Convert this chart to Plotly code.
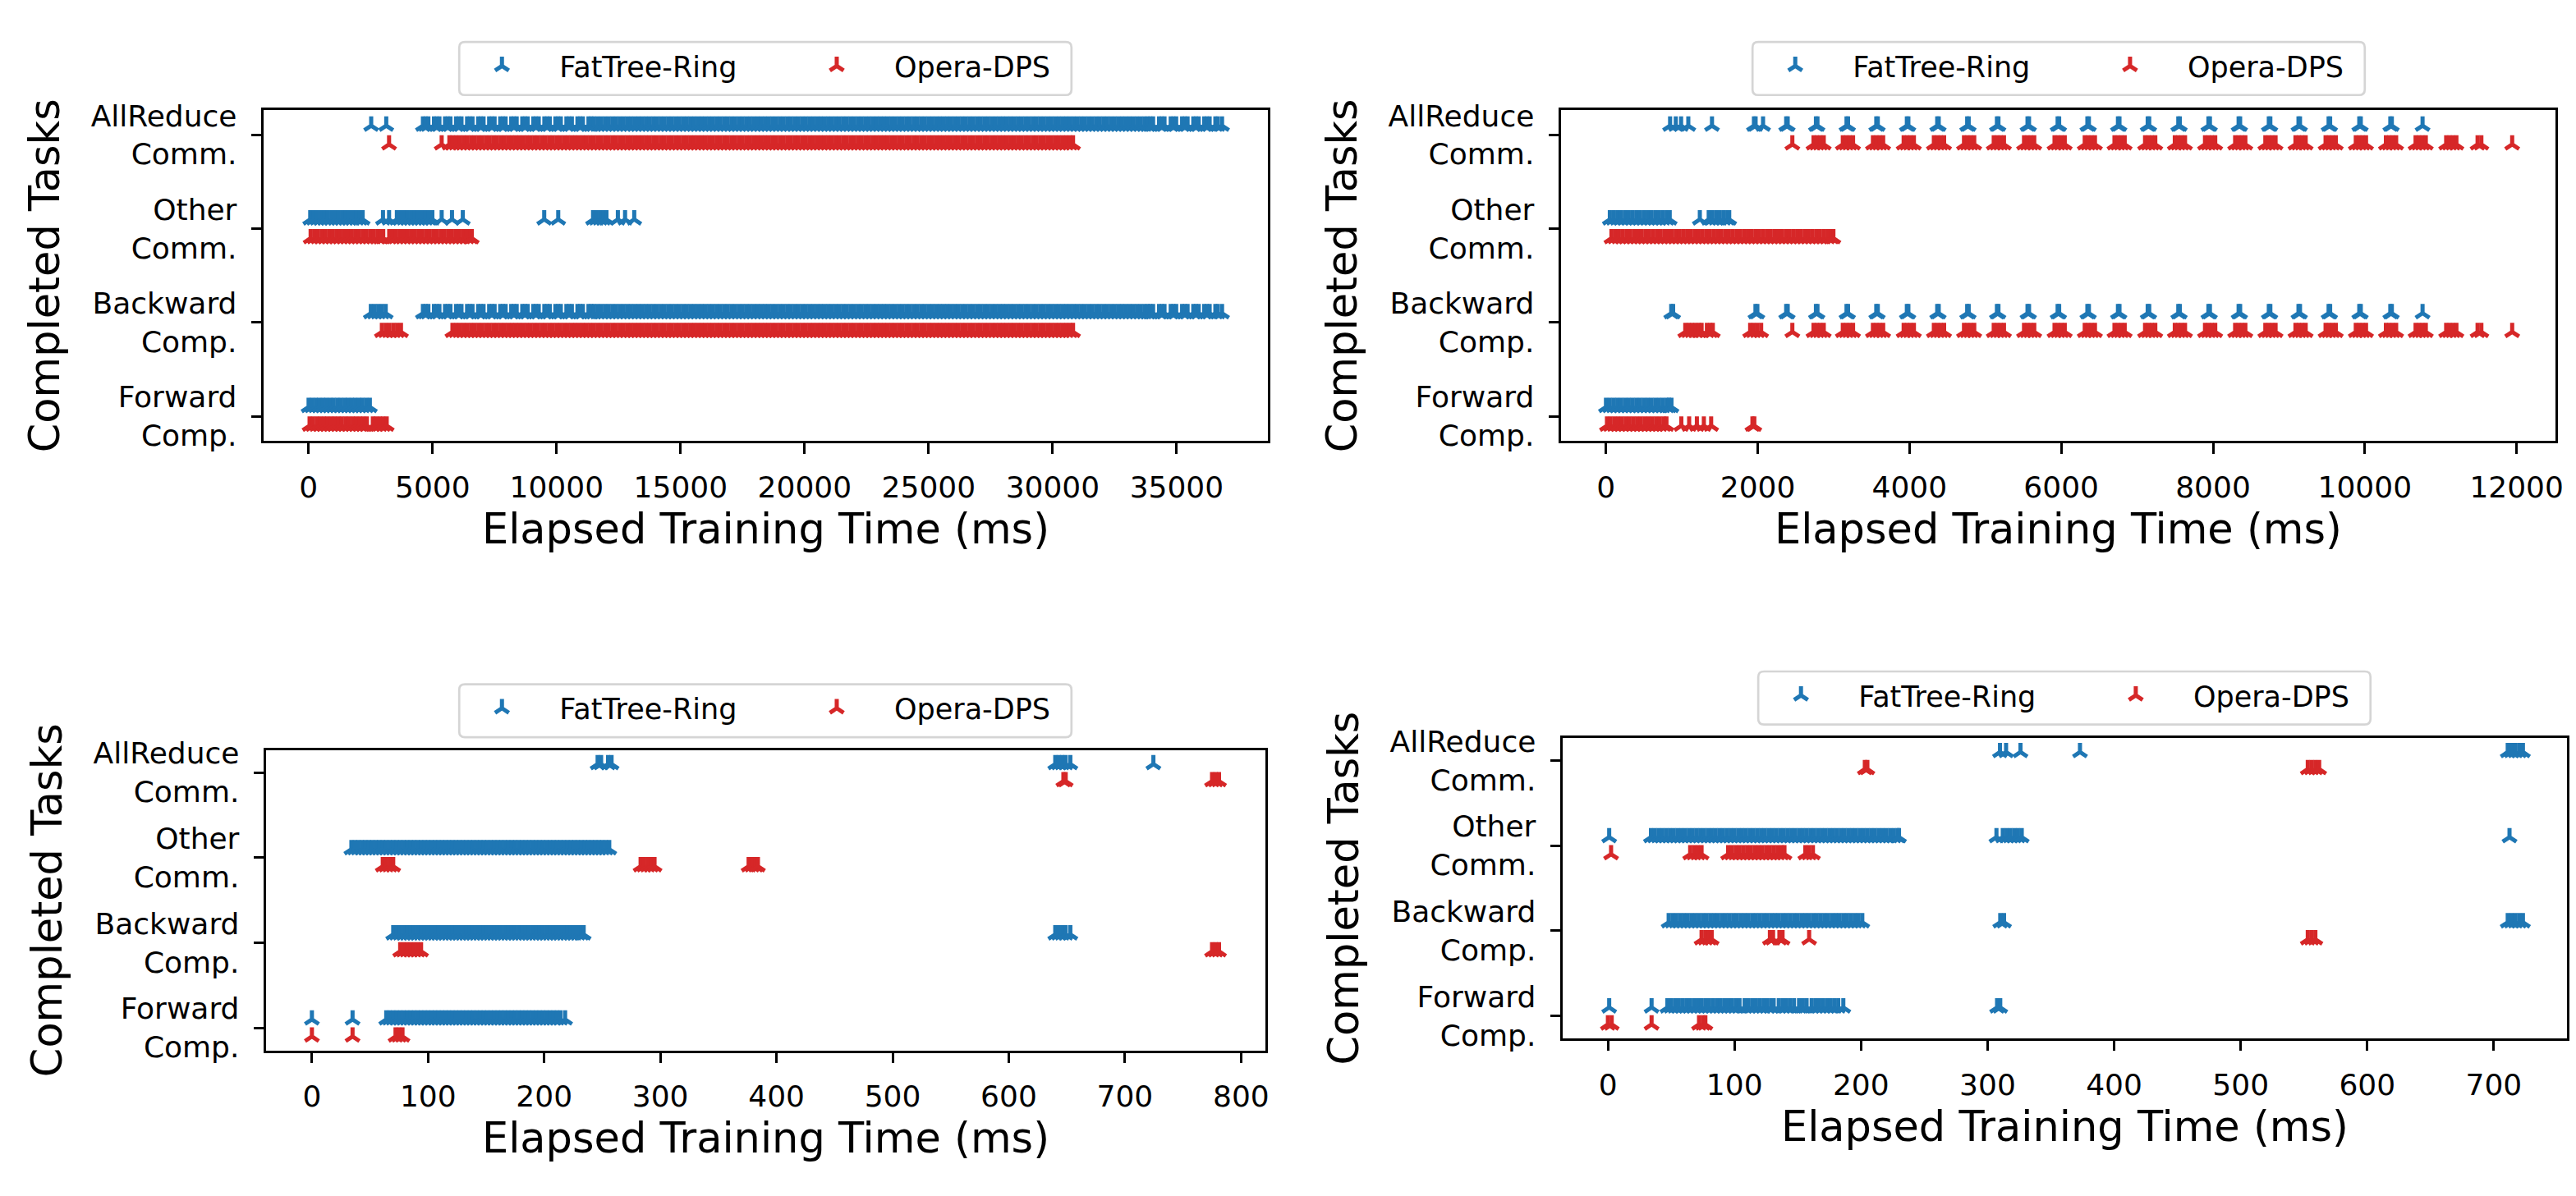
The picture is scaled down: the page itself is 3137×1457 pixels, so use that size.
import plotly.graph_objects as go

W, H = 3137, 1457
FONT = "DejaVu Sans"

categories = ["Forward<br>Comp.", "Backward<br>Comp.", "Other<br>Comm.", "AllReduce<br>Comm."]
series_names = ["FatTree-Ring", "Opera-DPS"]
series_colors = ["#1f77b4", "#d62728"]
series_offsets = [0.1, -0.1]
x_title = "Elapsed Training Time (ms)"
y_title = "Completed Tasks"

# ---------------- Panel 1 (top-left) : completion times in ms ----------------
p1_ring_forward = [0, 140, 290, 430, 580, 720, 870, 1010, 1160, 1300, 1450, 1590, 1740, 1880, 2030, 2170, 2320, 2470]
p1_ring_backward_head = [2510, 2660, 2810, 2960, 3110]
p1_ring_allreduce_head = [2524, 3131]
p1_ring_iter = [4610, 4720, 4830, 5055, 5165, 5275, 5500, 5610, 5720, 5945, 6055, 6165, 6390, 6500, 6610,
                6835, 6945, 7055, 7280, 7390, 7500, 7725, 7835, 7945, 8170, 8280, 8390, 8615, 8725, 8835,
                9060, 9170, 9280, 9505, 9615, 9725, 9950, 10060, 10170, 10395, 10505, 10615, 10840, 10950,
                11060, 11285, 11395, 11505,
                11650, 11800, 11950, 12100, 12250, 12400, 12550, 12700, 12850, 13000, 13150, 13300, 13450,
                13600, 13750, 13900, 14050, 14200, 14350, 14500, 14650, 14800, 14950, 15100, 15250, 15400,
                15550, 15700, 15850, 16000, 16150, 16300, 16450, 16600, 16750, 16900, 17050, 17200, 17350,
                17500, 17650, 17800, 17950, 18100, 18250, 18400, 18550, 18700, 18850, 19000, 19150, 19300,
                19450, 19600, 19750, 19900, 20050, 20200, 20350, 20500, 20650, 20800, 20950, 21100, 21250,
                21400, 21550, 21700, 21850, 22000, 22150, 22300, 22450, 22600, 22750, 22900, 23050, 23200,
                23350, 23500, 23650, 23800, 23950, 24100, 24250, 24400, 24550, 24700, 24850, 25000, 25150,
                25300, 25450, 25600, 25750, 25900, 26050, 26200, 26350, 26500, 26650, 26800, 26950, 27100,
                27250, 27400, 27550, 27700, 27850, 28000, 28150, 28300, 28450, 28600, 28750, 28900, 29050,
                29200, 29350, 29500, 29650, 29800, 29950, 30100, 30250, 30400, 30550, 30700, 30850, 31000,
                31150, 31300, 31450, 31600, 31750, 31900, 32050, 32200, 32350, 32500, 32650, 32800, 32950,
                33100, 33250, 33400, 33550, 33700,
                33830, 33940, 34050, 34290, 34400, 34510, 34760, 34870, 34980, 35220, 35330, 35440, 35670,
                35780, 35890, 36110, 36220, 36330, 36560, 36660, 36830]
p1_ring_other = [66, 210, 350, 490, 640, 780, 920, 1070, 1210, 1350, 1500, 1640, 1780, 1930, 2070, 2180,
                 3000, 3245, 3560, 3700, 3850, 3990, 4130, 4280, 4420, 4560, 4710, 4850, 4990, 5366, 5782,
                 6218, 9500, 10065, 11470, 11610, 11750, 11880, 12010, 12470, 12760, 13130]
p1_dps_forward = [40, 180, 330, 470, 620, 760, 910, 1050, 1200, 1340, 1490, 1630, 1780, 1920, 2070, 2210,
                  2350, 2590, 2720, 2870, 3010, 3150]
p1_dps_other = [82, 230, 380, 530, 680, 830, 980, 1130, 1280, 1430, 1580, 1730, 1880, 2030, 2180, 2330,
                2480, 2630, 2780, 2900, 3010, 3250, 3380, 3530, 3680, 3830, 3980, 4130, 4280, 4430, 4580,
                4730, 4880, 5030, 5180, 5330, 5480, 5630, 5780, 5930, 6080, 6230, 6380, 6530, 6580]
p1_dps_backward_head = [2955, 3110, 3260, 3420, 3570, 3725]
p1_dps_allreduce_head = [3245, 5366, 5676]
p1_dps_iter = [5800, 5950, 6100, 6250, 6400, 6550, 6700, 6850, 7000, 7150, 7300, 7450, 7600, 7750, 7900,
               8050, 8200, 8350, 8500, 8650, 8800, 8950, 9100, 9250, 9400, 9550, 9700, 9850, 10000, 10150,
               10300, 10450, 10600, 10750, 10900, 11050, 11200, 11350, 11500, 11650, 11800, 11950, 12100,
               12250, 12400, 12550, 12700, 12850, 13000, 13150, 13300, 13450, 13600, 13750, 13900, 14050,
               14200, 14350, 14500, 14650, 14800, 14950, 15100, 15250, 15400, 15550, 15700, 15850, 16000,
               16150, 16300, 16450, 16600, 16750, 16900, 17050, 17200, 17350, 17500, 17650, 17800, 17950,
               18100, 18250, 18400, 18550, 18700, 18850, 19000, 19150, 19300, 19450, 19600, 19750, 19900,
               20050, 20200, 20350, 20500, 20650, 20800, 20950, 21100, 21250, 21400, 21550, 21700, 21850,
               22000, 22150, 22300, 22450, 22600, 22750, 22900, 23050, 23200, 23350, 23500, 23650, 23800,
               23950, 24100, 24250, 24400, 24550, 24700, 24850, 25000, 25150, 25300, 25450, 25600, 25750,
               25900, 26050, 26200, 26350, 26500, 26650, 26800, 26950, 27100, 27250, 27400, 27550, 27700,
               27850, 28000, 28150, 28300, 28450, 28600, 28750, 28900, 29050, 29200, 29350, 29500, 29650,
               29800, 29950, 30100, 30250, 30400, 30550, 30700, 30822]

# ---------------- Panel 2 (top-right) ----------------
p2_ring_forward = [0, 50, 100, 150, 200, 250, 300, 350, 400, 450, 500, 550, 600, 650, 700, 750, 800, 830, 863]
p2_ring_backward_head = [860, 885, 1970, 1995]
p2_ring_allreduce_head = [845, 920, 990, 1085, 1397, 1950, 1972, 2070]
p2_ring_iter = [2375, 2395, 2767, 2787, 3170, 3190, 3562, 3582, 3965, 3985, 4365, 4385, 4760, 4780, 5152,
                5172, 5555, 5575, 5952, 5972, 6344, 6364, 6747, 6767, 7139, 7159, 7542, 7562, 7939, 7959,
                8337, 8357, 8735, 8755, 9126, 9146, 9523, 9543, 9927, 9947, 10336, 10356, 10761]
p2_ring_other = [51, 100, 150, 200, 250, 300, 350, 400, 450, 500, 550, 600, 650, 700, 750, 800, 840,
                 1237, 1354, 1400, 1450, 1500, 1550, 1600, 1624]
p2_dps_forward = [13, 60, 110, 160, 210, 260, 310, 360, 410, 460, 510, 560, 610, 660, 710, 760, 797,
                  993, 1096, 1198, 1290, 1386, 1930, 1955]
p2_dps_other = [72, 120, 170, 220, 270, 320, 370, 420, 470, 520, 570, 620, 670, 720, 770, 820, 870, 920,
                970, 1020, 1070, 1120, 1170, 1220, 1270, 1320, 1370, 1420, 1470, 1520, 1570, 1620, 1670,
                1720, 1770, 1820, 1870, 1920, 1970, 2020, 2070, 2120, 2170, 2220, 2270, 2320, 2370, 2420,
                2470, 2520, 2570, 2620, 2670, 2720, 2770, 2820, 2870, 2920, 2970, 2997]
p2_dps_backward_head = [1045, 1090, 1135, 1180, 1225, 1260, 1330, 1375, 1408, 1900, 1945, 1995, 2045, 2456]
p2_dps_allreduce_head = [2456]
p2_dps_iter = [2735, 2780, 2825, 2870, 3121, 3166, 3211, 3256, 3518, 3563, 3608, 3653, 3923, 3968, 4013,
               4058, 4321, 4366, 4411, 4456, 4718, 4763, 4808, 4853, 5110, 5155, 5200, 5245, 5509, 5554,
               5599, 5644, 5911, 5956, 6001, 6046, 6309, 6354, 6399, 6444, 6701, 6746, 6791, 6836, 7104,
               7149, 7194, 7239, 7496, 7541, 7586, 7631, 7894, 7939, 7984, 8029, 8291, 8336, 8381, 8426,
               8689, 8734, 8779, 8824, 9086, 9131, 9176, 9221, 9483, 9528, 9573, 9618, 9881, 9926, 9971,
               10016, 10278, 10323, 10368, 10413, 10669, 10714, 10759, 10804, 11072, 11117, 11162, 11207,
               11486, 11536, 11942]

# ---------------- Panel 3 (bottom-left) ----------------
p3_ring_forward = [0, 35, 64, 67, 70, 73, 76, 79, 82, 85, 88, 91, 94, 97, 100, 103, 106, 109, 112, 115, 118,
                   121, 124, 127, 130, 133, 136, 139, 142, 145, 148, 151, 154, 157, 160, 163, 166, 169, 172,
                   175, 178, 181, 184, 187, 190, 193, 196, 199, 202, 205, 208, 211, 214, 218]
p3_ring_backward = [70, 73, 76, 79, 82, 85, 88, 91, 94, 97, 100, 103, 106, 109, 112, 115, 118, 121, 124, 127,
                    130, 133, 136, 139, 142, 145, 148, 151, 154, 157, 160, 163, 166, 169, 172, 175, 178, 181,
                    184, 187, 190, 193, 196, 199, 202, 205, 208, 211, 214, 217, 220, 223, 226, 229, 232, 234,
                    640, 643, 646, 649, 653]
p3_ring_other = [34, 37, 40, 43, 46, 49, 52, 55, 58, 61, 64, 67, 70, 73, 76, 79, 82, 85, 88, 91, 94, 97, 100,
                 103, 106, 109, 112, 115, 118, 121, 124, 127, 130, 133, 136, 139, 142, 145, 148, 151, 154,
                 157, 160, 163, 166, 169, 172, 175, 178, 181, 184, 187, 190, 193, 196, 199, 202, 205, 208,
                 211, 214, 217, 220, 223, 226, 229, 232, 235, 238, 241, 244, 247, 250, 253, 256]
p3_ring_allreduce = [246, 249, 255, 258, 640, 643, 646, 649, 653, 724.5]
p3_dps_forward = [0, 35, 72, 75, 78]
p3_dps_backward = [76, 79, 82, 85, 88, 91, 94, 775, 778, 781]
p3_dps_other = [61, 64, 67, 70, 283, 286, 289, 292, 295, 376, 379, 382, 384]
p3_dps_allreduce = [647, 649, 775, 778, 781]

# ---------------- Panel 4 (bottom-right) ----------------
p4_ring_forward = [1, 34.5, 47, 50, 53, 56, 59, 62, 65, 68, 71, 74, 77, 80, 83, 86, 89, 92, 95, 98, 101, 104,
                   108, 111, 114, 117, 120, 123, 126, 129, 131, 135, 138, 141, 144, 147, 151, 154, 157, 161,
                   164, 167, 170, 173, 176, 179, 182, 186, 307.5, 310]
p4_ring_backward = [48, 51, 54, 57, 60, 63, 66, 69, 72, 75, 78, 81, 84, 87, 90, 93, 96, 99, 102, 105, 108,
                    111, 114, 117, 120, 123, 126, 129, 132, 135, 138, 141, 144, 147, 150, 153, 156, 159, 162,
                    165, 168, 171, 174, 177, 180, 183, 186, 189, 192, 195, 198, 201, 310, 313,
                    711, 714, 717, 720, 723]
p4_ring_other = [1, 34, 37, 40, 43, 46, 49, 52, 55, 58, 61, 64, 67, 70, 73, 76, 79, 82, 85, 88, 91, 94, 97,
                 100, 103, 106, 109, 112, 115, 118, 121, 124, 127, 130, 133, 136, 139, 142, 145, 148, 151,
                 154, 157, 160, 163, 166, 169, 172, 175, 178, 181, 184, 187, 190, 193, 196, 199, 202, 205,
                 208, 211, 214, 217, 220, 223, 226, 229, 230, 307, 312, 315, 318, 321, 324, 327, 712.4]
p4_ring_allreduce = [309.8, 314.6, 326, 373, 711, 714, 717, 720, 723]
p4_dps_forward = [0, 3, 34.5, 72, 75, 77]
p4_dps_backward = [74, 77, 80, 82, 128, 130.5, 135.5, 138, 159, 553, 556, 559]
p4_dps_other = [2.5, 65, 68, 71, 74, 95, 98, 101, 104, 107, 110, 113, 116, 119, 122, 125, 128, 131, 134, 137,
                139.5, 156, 159, 162]
p4_dps_allreduce = [203, 205, 553, 556, 559, 562]

# rows ordered bottom -> top as in `categories`
panel_rows = [
    ([p1_ring_forward, p1_ring_backward_head + p1_ring_iter, p1_ring_other, p1_ring_allreduce_head + p1_ring_iter],
     [p1_dps_forward, p1_dps_backward_head + p1_dps_iter, p1_dps_other, p1_dps_allreduce_head + p1_dps_iter]),
    ([p2_ring_forward, p2_ring_backward_head + p2_ring_iter, p2_ring_other, p2_ring_allreduce_head + p2_ring_iter],
     [p2_dps_forward, p2_dps_backward_head + p2_dps_iter, p2_dps_other, p2_dps_allreduce_head + p2_dps_iter]),
    ([p3_ring_forward, p3_ring_backward, p3_ring_other, p3_ring_allreduce],
     [p3_dps_forward, p3_dps_backward, p3_dps_other, p3_dps_allreduce]),
    ([p4_ring_forward, p4_ring_backward, p4_ring_other, p4_ring_allreduce],
     [p4_dps_forward, p4_dps_backward, p4_dps_other, p4_dps_allreduce]),
]

# layout (pixels): axes boxes (left, right, top, bottom), legend frames (left, top, bottom)
boxes = [(322, 1549, 121, 533), (1907, 3122, 121, 533), (325, 1546, 918, 1292), (1909, 3136, 903, 1277)]
x_ranges = [[-1815, 38680], [-593, 12513], [-39.5, 821], [-35.8, 757.8]]
x_dticks = [5000, 2000, 100, 100]
legend_frames = [(561, 36, 102), (2141, 36, 102), (561, 836, 902), (2148, 820, 886)]
LEGEND_W = 748
ENTRY_OFFSETS = [-18, 391]   # legend anchor offset of each entry inside the frame
y_range = [-0.264, 3.264]


def px_x(p):
    return p / W


def px_y(p):
    return 1 - p / H


def rounded_rect(x0, y0, x1, y1, r):
    pts = [
        f"M {px_x(x0 + r)},{px_y(y0)}", f"L {px_x(x1 - r)},{px_y(y0)}",
        f"Q {px_x(x1)},{px_y(y0)} {px_x(x1)},{px_y(y0 + r)}", f"L {px_x(x1)},{px_y(y1 - r)}",
        f"Q {px_x(x1)},{px_y(y1)} {px_x(x1 - r)},{px_y(y1)}", f"L {px_x(x0 + r)},{px_y(y1)}",
        f"Q {px_x(x0)},{px_y(y1)} {px_x(x0)},{px_y(y1 - r)}", f"L {px_x(x0)},{px_y(y0 + r)}",
        f"Q {px_x(x0)},{px_y(y0)} {px_x(x0 + r)},{px_y(y0)}", "Z",
    ]
    return " ".join(pts)


fig = go.Figure()
layout = {}
shapes = []
for i, (rows_ring, rows_dps) in enumerate(panel_rows):
    sfx = "" if i == 0 else str(i + 1)
    fl, ft, fb = legend_frames[i]
    for s, rows in enumerate((rows_ring, rows_dps)):
        idx = 2 * i + s
        lname = "legend" if idx == 0 else f"legend{idx + 1}"
        xs, ys = [], []
        for k, row in enumerate(rows):
            xs.extend(row)
            ys.extend([k + series_offsets[s]] * len(row))
        fig.add_trace(go.Scatter(
            x=xs, y=ys, mode="markers", name=series_names[s],
            xaxis="x" + sfx, yaxis="y" + sfx, legend=lname, showlegend=True,
            marker=dict(symbol="y-up", size=14, color=series_colors[s],
                        line=dict(color=series_colors[s], width=5)),
            hoverinfo="x+name",
        ))
        layout[lname] = dict(
            orientation="h", x=px_x(fl + ENTRY_OFFSETS[s]), xanchor="left",
            y=px_y((ft + fb) / 2 - 3), yanchor="middle",
            font=dict(size=35, family=FONT, color="black"),
            bgcolor="rgba(0,0,0,0)", borderwidth=0, itemwidth=130,
        )
    shapes.append(dict(type="path", xref="paper", yref="paper",
                       path=rounded_rect(fl, ft, fl + LEGEND_W, fb, 7),
                       line=dict(color="#d5d5d5", width=2.7), fillcolor="rgba(255,255,255,0)",
                       layer="above"))
    l, r, t, b = boxes[i]
    layout["xaxis" + sfx] = dict(
        domain=[l / W, r / W], anchor="y" + sfx, range=x_ranges[i], tick0=0, dtick=x_dticks[i],
        tickformat="d", showline=True, mirror=True, linecolor="black", linewidth=2.7,
        ticks="outside", ticklen=12.5, tickwidth=2.7, tickcolor="black", showgrid=False, zeroline=False,
        tickfont=dict(size=36, family=FONT, color="black"), ticklabelstandoff=10,
        title=dict(text=x_title, font=dict(size=51, family=FONT, color="black"), standoff=14),
    )
    layout["yaxis" + sfx] = dict(
        domain=[1 - b / H, 1 - t / H], anchor="x" + sfx, range=y_range,
        tickmode="array", tickvals=[0, 1, 2, 3], ticktext=categories,
        showline=True, mirror=True, linecolor="black", linewidth=2.7,
        ticks="outside", ticklen=12.5, tickwidth=2.7, tickcolor="black", showgrid=False, zeroline=False,
        tickfont=dict(size=36, family=FONT, color="black"), ticklabelstandoff=10,
        title=dict(text=y_title, font=dict(size=51, family=FONT, color="black"), standoff=22),
    )

fig.update_layout(
    width=W, height=H, margin=dict(l=0, r=0, t=0, b=0),
    paper_bgcolor="white", plot_bgcolor="white",
    font=dict(family=FONT, color="black"),
    showlegend=True,
    shapes=shapes,
    **layout,
)

fig.write_html("out.html", config={"displayModeBar": False},
               post_script="document.body.style.margin='0';")
